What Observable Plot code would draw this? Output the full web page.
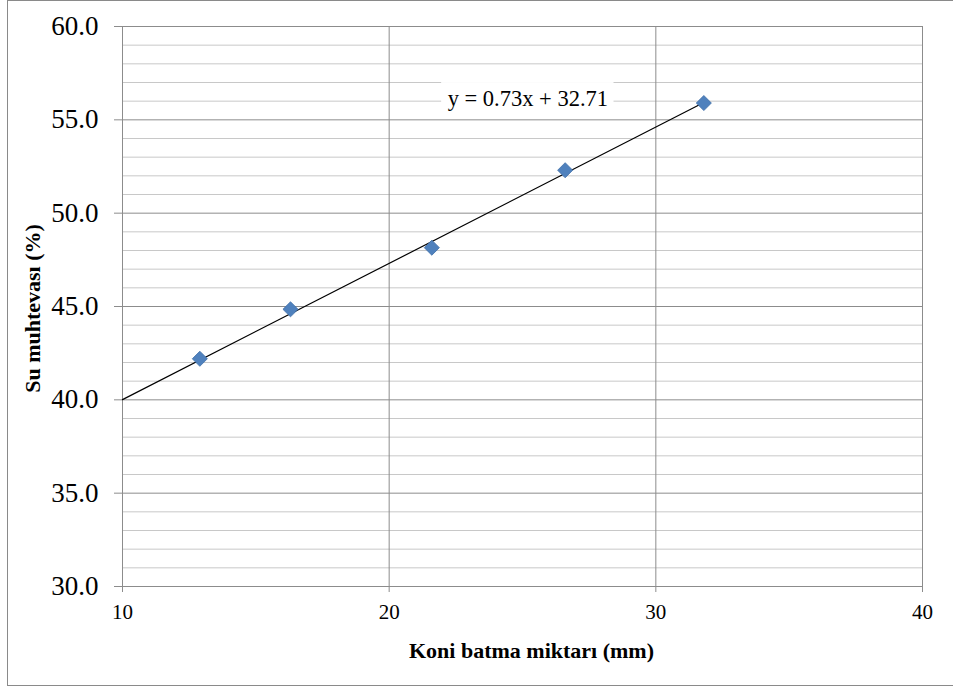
<!DOCTYPE html>
<html><head><meta charset="utf-8">
<script src="https://cdn.jsdelivr.net/npm/d3@7"></script>
<script src="https://cdn.jsdelivr.net/npm/@observablehq/plot@0.6"></script>
<style>
body{margin:0;background:#fff;}
#wrap{position:relative;width:953px;height:691px;overflow:hidden;}
#border{position:absolute;left:7px;top:0px;width:980px;height:686px;border:1px solid #8a8a8a;box-sizing:border-box;}
#chart{position:absolute;left:0;top:0;}
</style></head><body>
<div id="wrap"><div id="border"></div><div id="chart"></div></div>
<script>
// Data
const penetration = [12.9, 16.3, 21.6, 26.6, 31.8];     // Koni batma miktarı (mm)
const waterContent = [42.2, 44.85, 48.15, 52.3, 55.9];  // Su muhtevası (%)
const xTicks = [10, 20, 30, 40];
const yTicks = [30, 35, 40, 45, 50, 55, 60];
const yMinor = [31, 32, 33, 34, 36, 37, 38, 39, 41, 42, 43, 44, 46, 47, 48, 49, 51, 52, 53, 54, 56, 57, 58, 59];
const trendSlope = 0.73;
const trendIntercept = 32.71;
const trendRange = [10, 31.8];
const equationLabel = "y = 0.73x + 32.71";
const equationAt = [25.2, 56.15];
const xTitle = "Koni batma miktarı (mm)";
const yTitle = "Su muhtevası (%)";

const points = penetration.map((x, i) => ({x, y: waterContent[i]}));
const trend = trendRange.map(x => ({x, y: trendSlope * x + trendIntercept}));
const serif = "'Liberation Serif', 'Times New Roman', Times, serif";

const plot = Plot.plot({
  width: 953,
  height: 691,
  marginLeft: 122,
  marginRight: 31,
  marginTop: 26,
  marginBottom: 105,
  x: {domain: [10, 40]},
  y: {domain: [30, 60]},
  style: {fontFamily: serif, background: "transparent", color: "#000", overflow: "visible"},
  marks: [
    Plot.ruleY(yMinor, {stroke: "#c8c8c8", strokeWidth: 1}),
    Plot.ruleY(yTicks, {stroke: "#8c8c8c", strokeWidth: 1}),
    Plot.ruleX(xTicks, {stroke: "#8c8c8c", strokeWidth: 1}),
    Plot.axisY(yTicks, {tickSize: 8, tickPadding: 16, fontSize: 27, stroke: "#8c8c8c", fill: "#000",
      tickFormat: d => d.toFixed(1), label: null}),
    Plot.axisX(xTicks, {tickSize: 6, tickPadding: 12, fontSize: 21, stroke: "#8c8c8c", fill: "#000",
      tickFormat: d => String(d), label: null}),
    Plot.line(trend, {x: "x", y: "y", stroke: "#000", strokeWidth: 1.2}),
    Plot.dot(points, {x: "x", y: "y", symbol: "diamond2", r: 6.8, fill: "#4f81bd", stroke: "#3f6ea8", strokeWidth: 0.8}),
    Plot.text([equationLabel], {x: () => equationAt[0], y: () => equationAt[1], text: d => d, fontSize: 22.5, fill: "#000", className: "eq"}),
    Plot.text([xTitle], {frameAnchor: "bottom", text: d => d, textAnchor: "middle", lineAnchor: "middle", dx: 9, dy: 64, fontSize: 22, fontWeight: "bold", fill: "#000"}),
    Plot.text([yTitle], {frameAnchor: "left", text: d => d, textAnchor: "middle", lineAnchor: "middle", rotate: -90, dx: -90, dy: 2, fontSize: 22, fontWeight: "bold", fill: "#000"})
  ]
});
document.getElementById("chart").appendChild(plot);

// white box behind the regression equation
const eq = d3.select(plot).select("g.eq");
if (!eq.empty()) {
  const bb = eq.node().getBBox();
  d3.select(eq.node().parentNode).insert("rect", () => eq.node())
    .attr("x", bb.x - 6).attr("y", bb.y - 3)
    .attr("width", bb.width + 12).attr("height", bb.height + 6)
    .attr("fill", "#fff");
}
</script>
</body></html>
